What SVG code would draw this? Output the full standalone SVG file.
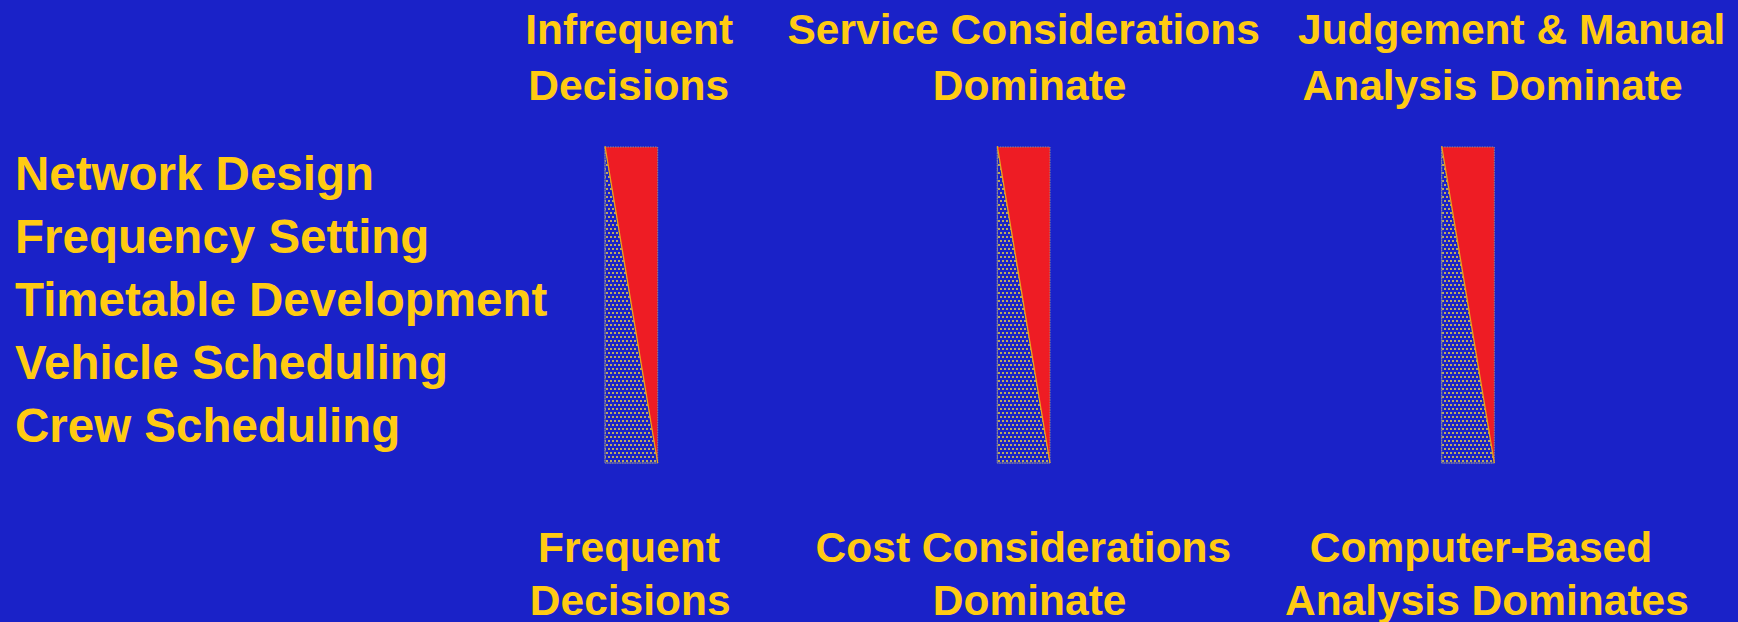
<svg xmlns="http://www.w3.org/2000/svg" width="1738" height="622" viewBox="0 0 1738 622">
  <style>
    .t { font-family: "Liberation Sans", Arial, sans-serif; font-weight: bold; fill: #ffcb12; }
    .list { font-size: 47.5px; }
    .col { font-size: 42.5px; }
    .red { fill: #ee1c24; stroke: none; }
    .dots { fill: url(#dotPat); stroke: #8c8a96; stroke-width: 1; stroke-dasharray: 1.5 1; }
    .diag { stroke: #e8a61a; stroke-width: 1.2; fill: none; }
    .frame { fill: none; stroke: #8c8a96; stroke-width: 1; stroke-dasharray: 1.5 1; }
  </style>
  <defs>
    <pattern id="dotPat" patternUnits="userSpaceOnUse" x="605" y="147" width="4" height="8">
      <rect width="4" height="8" fill="#1a22c8"/>
      <rect x="1" y="1" width="2" height="2" fill="#bcaa5c"/>
      <rect x="3" y="5" width="1" height="2" fill="#bcaa5c"/>
      <rect x="0" y="5" width="1" height="2" fill="#bcaa5c"/>
    </pattern>
  </defs>
  <rect width="1738" height="622" fill="#1a22c8"/>

  <g id="list">
    <text class="t list" x="15" y="189.5">Network Design</text>
    <text class="t list" x="15" y="252.5">Frequency Setting</text>
    <text class="t list" x="15" y="315.5">Timetable Development</text>
    <text class="t list" x="15" y="378.5">Vehicle Scheduling</text>
    <text class="t list" x="15" y="441.5">Crew Scheduling</text>
  </g>

  <g id="col1">
    <text class="t col" x="525.3" y="44.3">Infrequent</text>
    <text class="t col" x="528.3" y="100">Decisions</text>
    <g id="bar1">
      <polygon class="dots" points="605,147 657.7,463 605,463"/>
      <polygon class="red" points="605,147 657.7,147 657.7,463"/>
      <rect class="frame" x="605" y="147" width="52.7" height="316"/>
      <line class="diag" x1="605" y1="146" x2="657.7" y2="463"/>
    </g>
    <text class="t col" x="538" y="561.7">Frequent</text>
    <text class="t col" x="529.8" y="615">Decisions</text>
  </g>

  <g id="col2">
    <text class="t col" x="787.5" y="44.3">Service Considerations</text>
    <text class="t col" x="932.8" y="100">Dominate</text>
    <g id="bar2">
      <polygon class="dots" points="997.3,147 1050,463 997.3,463"/>
      <polygon class="red" points="997.3,147 1050,147 1050,463"/>
      <rect class="frame" x="997.3" y="147" width="52.7" height="316"/>
      <line class="diag" x1="997.3" y1="146" x2="1050" y2="463"/>
    </g>
    <text class="t col" x="815.6" y="561.7">Cost Considerations</text>
    <text class="t col" x="932.8" y="615">Dominate</text>
  </g>

  <g id="col3">
    <text class="t col" x="1298" y="43.5">Judgement &amp; Manual</text>
    <text class="t col" x="1302.5" y="99.5">Analysis Dominate</text>
    <g id="bar3">
      <polygon class="dots" points="1441.7,147 1494.3,463 1441.7,463"/>
      <polygon class="red" points="1441.7,147 1494.3,147 1494.3,463"/>
      <rect class="frame" x="1441.7" y="147" width="52.6" height="316"/>
      <line class="diag" x1="1441.7" y1="146" x2="1494.3" y2="463"/>
    </g>
    <text class="t col" x="1309.8" y="561.7">Computer-Based</text>
    <text class="t col" x="1285" y="615">Analysis Dominates</text>
  </g>

  <g id="connectors"/>
</svg>
